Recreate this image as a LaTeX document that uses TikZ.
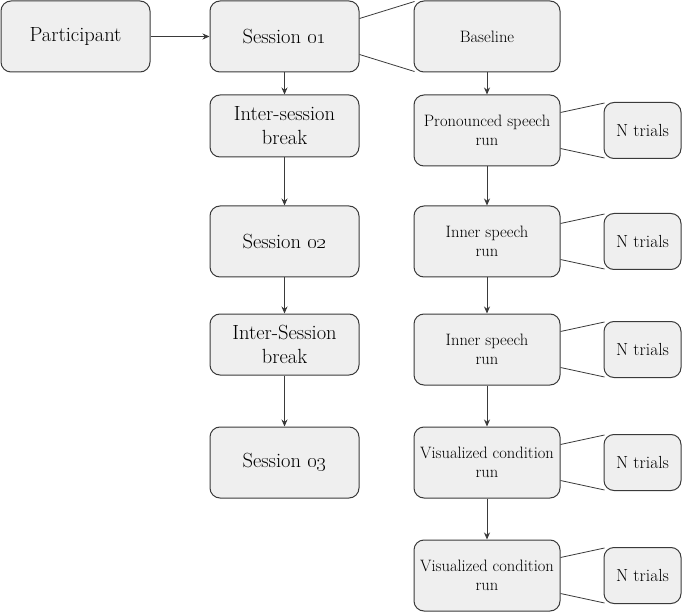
\documentclass[tikz,border=0pt]{standalone}
\usetikzlibrary{arrows.meta,calc}
\definecolor{boxfill}{HTML}{EFEFEF}
\definecolor{boxline}{HTML}{3A3A3A}
\tikzset{
  box/.style={draw=boxline, fill=boxfill, line width=1pt, rounded corners=10pt,
    align=center, inner sep=0pt, text=black},
  big/.style={box, font=\fontsize{20.5}{24}\selectfont},
  small/.style={box, font=\fontsize{16.5}{19}\selectfont},
  trial/.style={box, font=\fontsize{17.5}{20}\selectfont},
  arr/.style={draw=boxline, line width=0.8pt, -{Stealth[length=7pt,width=6pt]}},
  zoomline/.style={draw=boxline, line width=0.8pt}
}
\begin{document}
\begin{tikzpicture}[x=1pt,y=1pt]
\useasboundingbox (0,0) rectangle (685,-612);
% left column
\node[big, minimum width=149pt, minimum height=71pt] (P) at (75.5,-36.5) {Participant};
\node[big, minimum width=149pt, minimum height=71pt] (S1) at (284.5,-36.5) {Session \oldstylenums{01}};
\node[big, minimum width=149pt, minimum height=62pt] (IB1) at (284.5,-126) {Inter-session\\break};
\node[big, minimum width=149pt, minimum height=71pt] (S2) at (284.5,-241.5) {Session \oldstylenums{02}};
\node[big, minimum width=149pt, minimum height=61pt] (IB2) at (284.5,-344.5) {Inter-Session\\break};
\node[big, minimum width=149pt, minimum height=71pt] (S3) at (284.5,-462.5) {Session \oldstylenums{03}};
% right column
\node[small, minimum width=146pt, minimum height=71pt] (B) at (487,-36.5) {Baseline};
\node[small, minimum width=146pt, minimum height=71pt] (R1) at (487,-130.5) {Pronounced speech\\run};
\node[small, minimum width=146pt, minimum height=71pt] (R2) at (487,-241.5) {Inner speech\\run};
\node[small, minimum width=146pt, minimum height=71pt] (R3) at (487,-349.5) {Inner speech\\run};
\node[small, minimum width=146pt, minimum height=71pt] (R4) at (487,-462.5) {Visualized condition\\run};
\node[small, minimum width=146pt, minimum height=71pt] (R5) at (487,-575.5) {Visualized condition\\run};
% trials
\foreach \i in {1,...,5}{
  \node[trial, minimum width=77pt, minimum height=56pt] (T\i) at ($(R\i.center)+(155.5,0)$) {N trials};
}
% arrows
\draw[arr] (P.east) -- (S1.west);
\draw[arr] (S1.south) -- (IB1.north);
\draw[arr] (IB1.south) -- (S2.north);
\draw[arr] (S2.south) -- (IB2.north);
\draw[arr] (IB2.south) -- (S3.north);
\draw[arr] (B.south) -- (R1.north);
\draw[arr] (R1.south) -- (R2.north);
\draw[arr] (R2.south) -- (R3.north);
\draw[arr] (R3.south) -- (R4.north);
\draw[arr] (R4.south) -- (R5.north);
% zoom lines
\draw[zoomline] ($(S1.north east)!0.25!(S1.south east)$) -- ($(B.north west)+(1,-1)$);
\draw[zoomline] ($(S1.north east)!0.75!(S1.south east)$) -- ($(B.south west)+(1,1)$);
\foreach \i in {1,...,5}{
  \draw[zoomline] ($(R\i.north east)!0.25!(R\i.south east)$) -- ($(T\i.north west)+(1,-1)$);
  \draw[zoomline] ($(R\i.north east)!0.75!(R\i.south east)$) -- ($(T\i.south west)+(1,1)$);
}
\end{tikzpicture}
\end{document}
